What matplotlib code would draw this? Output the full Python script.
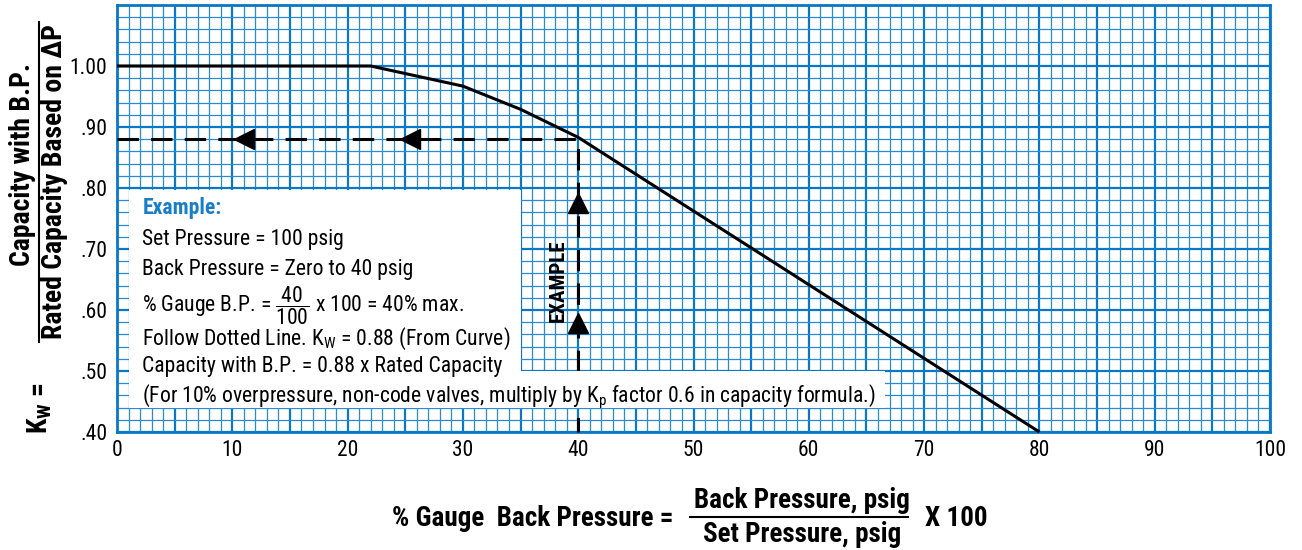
import matplotlib
matplotlib.use('Agg')
import matplotlib.pyplot as plt
from matplotlib.ticker import MultipleLocator, FuncFormatter
from matplotlib.patches import Rectangle
from matplotlib.lines import Line2D

plt.rcParams['font.family'] = ['Roboto Condensed', 'Liberation Sans Narrow', 'Roboto', 'DejaVu Sans']
plt.rcParams['mathtext.fontset'] = 'custom'
plt.rcParams['mathtext.rm'] = 'Roboto Condensed'
plt.rcParams['mathtext.it'] = 'Roboto Condensed:italic'
plt.rcParams['mathtext.bf'] = 'Roboto Condensed:bold'
plt.rcParams['mathtext.default'] = 'regular'

# Kw curve
bp_pct = [0, 22, 30, 35, 40, 80]
kw = [1.00, 1.00, 0.967, 0.929, 0.883, 0.40]

# worked example (40% back pressure -> Kw = 0.88)
ex_bp = 40
ex_kw = 0.88
left_arrow_x = [11.0, 25.4]
up_arrow_y = [0.776, 0.579]

x_ticks = [0, 10, 20, 30, 40, 50, 60, 70, 80, 90, 100]
y_ticks = [0.4, 0.5, 0.6, 0.7, 0.8, 0.9, 1.0]
y_labels = ['.40', '.50', '.60', '.70', '.80', '.90', '1.00']

example_title = 'Example:'
example_lines = [
    'Set Pressure = 100 psig',
    'Back Pressure = Zero to 40 psig',
    r'% Gauge B.P. = $\dfrac{\mathregular{40}}{\mathregular{100}}$ x 100 = 40% max.',
    r'Follow Dotted Line. K$_\mathregular{W}$ = 0.88 (From Curve)',
    'Capacity with B.P. = 0.88 x Rated Capacity',
    r'(For 10% overpressure, non-code valves, multiply by K$_\mathregular{p}$ factor 0.6 in capacity formula.)',
]

blue = '#0a78c4'
blue_minor = '#2a8ad2'
text_blue = '#1a7ec6'

fig = plt.figure(figsize=(13.02, 5.5), dpi=100)
ax = fig.add_axes([117 / 1302, 1 - 432 / 550, 1153 / 1302, 427 / 550])
ax.set_xlim(0, 100)
ax.set_ylim(0.40, 1.10)

# graph-paper grid
ax.xaxis.set_major_locator(MultipleLocator(5))
ax.xaxis.set_minor_locator(MultipleLocator(1))
ax.xaxis.set_major_formatter(FuncFormatter(lambda v, p: f'{int(round(v))}' if round(v) in x_ticks else ''))
ax.yaxis.set_major_locator(MultipleLocator(0.1))
ax.yaxis.set_minor_locator(MultipleLocator(0.02))
ax.yaxis.set_major_formatter(FuncFormatter(
    lambda v, p: y_labels[y_ticks.index(round(v, 2))] if round(v, 2) in y_ticks else ''))
ax.grid(which='major', color=blue, lw=1.6)
ax.grid(which='minor', color=blue_minor, lw=0.9)
ax.tick_params(which='both', length=0)
ax.tick_params(axis='x', labelsize=15.5, pad=6)
ax.tick_params(axis='y', labelsize=15.5, pad=7)
for s in ax.spines.values():
    s.set_color(blue)
    s.set_linewidth(2)

# curve
ax.plot(bp_pct, kw, color='black', lw=2.2, zorder=5, clip_on=False, solid_capstyle='butt')

# dashed example path
ax.plot([0, ex_bp, ex_bp], [ex_kw, ex_kw, 0.40], color='black', lw=2.2,
        linestyle=(0, (7, 4)), zorder=3, clip_on=False)
ax.plot(left_arrow_x, [ex_kw] * len(left_arrow_x), linestyle='none', marker='<',
        ms=14, color='black', zorder=3)
ax.plot([ex_bp] * len(up_arrow_y), up_arrow_y, linestyle='none', marker='^',
        ms=14, color='black', zorder=3)
ax.text(38.3, 0.648, 'EXAMPLE', rotation=90, ha='center', va='center',
        fontsize=15, fontweight='bold', zorder=3)

# example box
ax.add_patch(Rectangle((1.0, 0.44), 34.0, 0.357, facecolor='white', edgecolor='none', zorder=4))
ax.add_patch(Rectangle((1.0, 0.44), 65.6, 0.06, facecolor='white', edgecolor='none', zorder=4))
ax.text(2.2, 0.768, example_title, color=text_blue, fontsize=15.6, fontweight='bold',
        ha='left', va='center', zorder=6)
line_y = [0.720, 0.671, 0.620, 0.558, 0.512, 0.464]
for t, y in zip(example_lines, line_y):
    ax.text(2.2, y, t, fontsize=15.6, ha='left', va='center_baseline', zorder=6)

# y-axis label
fig.text(40 / 1302, 1 - 408 / 550, r'K$_\mathregular{W}$ =', rotation=90, ha='center',
         va='center', fontsize=20, fontweight='bold')
fig.text(23 / 1302, 1 - 165 / 550, 'Capacity with B.P.', rotation=90, ha='center',
         va='center', fontsize=20, fontweight='bold')
fig.text(55 / 1302, 1 - 182 / 550, 'Rated Capacity Based on \u2206P', rotation=90, ha='center',
         va='center', fontsize=20, fontweight='bold')
fig.add_artist(Line2D([39 / 1302, 39 / 1302], [1 - 22 / 550, 1 - 342 / 550], color='black', lw=1.5))

# x-axis label
fig.text(392 / 1302, 1 - 519 / 550, '% Gauge  Back Pressure =', ha='left', va='center',
         fontsize=19.5, fontweight='bold')
fig.text(802 / 1302, 1 - 500 / 550, 'Back Pressure, psig', ha='center', va='center',
         fontsize=19.5, fontweight='bold')
fig.text(802 / 1302, 1 - 534 / 550, 'Set Pressure, psig', ha='center', va='center',
         fontsize=19.5, fontweight='bold')
fig.add_artist(Line2D([690 / 1302, 908 / 1302], [1 - 517 / 550, 1 - 517 / 550], color='black', lw=1.5))
fig.text(925 / 1302, 1 - 519 / 550, 'X 100', ha='left', va='center',
         fontsize=19.5, fontweight='bold')

fig.savefig('out.png', dpi=100)
